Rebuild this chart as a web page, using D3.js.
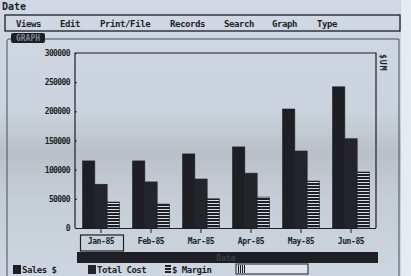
<!DOCTYPE html>
<html>
<head>
<meta charset="utf-8">
<script src="https://cdn.jsdelivr.net/npm/d3@7"></script>
<style>
  html, body { margin: 0; padding: 0; background: #d3dce5; }
  svg text { font-family: "DejaVu Sans Mono", monospace; font-weight: bold; }
</style>
</head>
<body>
<div id="chart"></div>
<script>
  "use strict";

  // data
  var months = ["Jan-85", "Feb-85", "Mar-85", "Apr-85", "May-85", "Jun-85"];
  var sales = [115000, 115000, 127000, 139000, 204000, 242000];
  var totalCost = [75000, 79000, 84000, 94000, 132000, 153000];
  var margin = [44500, 41000, 50000, 53000, 80500, 96000];
  var yTicks = [0, 50000, 100000, 150000, 200000, 250000, 300000];
  var seriesNames = ["Sales $", "Total Cost", "$ Margin"];
  var menuItems = ["Views", "Edit", "Print/File", "Records", "Search", "Graph", "Type"];

  var W = 411, H = 276;
  var ink = "#1d1f24";

  var svg = d3.select("#chart").append("svg")
      .attr("width", W)
      .attr("height", H);

  var defs = svg.append("defs");
  var grad = defs.append("linearGradient").attr("id", "bg")
      .attr("x1", 0).attr("y1", 0).attr("x2", 0).attr("y2", 1);
  grad.append("stop").attr("offset", "0%").attr("stop-color", "#d0d9e3");
  grad.append("stop").attr("offset", "40%").attr("stop-color", "#cbd4de");
  grad.append("stop").attr("offset", "55%").attr("stop-color", "#b9c0c7");
  grad.append("stop").attr("offset", "70%").attr("stop-color", "#c4ccd5");
  grad.append("stop").attr("offset", "100%").attr("stop-color", "#cdd6e0");

  // horizontal stripes for the margin bars
  var pat = defs.append("pattern").attr("id", "hatch")
      .attr("patternUnits", "userSpaceOnUse")
      .attr("width", 4).attr("height", 3);
  pat.append("rect").attr("width", 4).attr("height", 3).attr("fill", "#d8dde2");
  pat.append("rect").attr("width", 4).attr("height", 2).attr("fill", ink);

  // vertical stripes for the little scroll box
  var vpat = defs.append("pattern").attr("id", "vhatch")
      .attr("patternUnits", "userSpaceOnUse")
      .attr("width", 2).attr("height", 4);
  vpat.append("rect").attr("width", 2).attr("height", 4).attr("fill", "#d8dde2");
  vpat.append("rect").attr("width", 1).attr("height", 4).attr("fill", ink);

  svg.append("rect").attr("width", W).attr("height", H).attr("fill", "url(#bg)");
  svg.append("rect").attr("x", 401).attr("width", 10).attr("height", H).attr("fill", "#e6ebef");

  // title + menu bar
  svg.append("text").attr("x", 2).attr("y", 10)
      .attr("font-size", 10).attr("fill", ink).text("Date");
  svg.append("rect").attr("x", 5).attr("y", 15).attr("width", 395).attr("height", 16)
      .attr("fill", "none").attr("stroke", ink).attr("stroke-width", 1.3);
  var menuX = [16, 60, 100, 170, 224, 272, 317];
  svg.selectAll("text.menu")
    .data(menuItems)
    .enter()
      .append("text")
      .attr("class", "menu")
      .attr("x", function(d, i) { return menuX[i]; })
      .attr("y", 27)
      .attr("font-size", 9)
      .attr("letter-spacing", -0.4)
      .attr("fill", ink)
      .text(function(d) { return d; });

  // window frame and GRAPH tab
  svg.append("path")
      .attr("d", "M7,276 V41 Q7,39 9,39 H399 V276")
      .attr("fill", "none").attr("stroke", "#4a4f57").attr("stroke-width", 1);
  svg.append("rect").attr("x", 11).attr("y", 33).attr("width", 34).attr("height", 10)
      .attr("rx", 2).attr("fill", ink);
  svg.append("text").attr("x", 28).attr("y", 41).attr("text-anchor", "middle")
      .attr("font-size", 8).attr("fill", "#7d8590").text("GRAPH");

  // scales
  var x = d3.scaleBand().domain(months).range([76, 376])
      .paddingInner(0.26).paddingOuter(0.13);
  var xs = d3.scaleBand().domain(seriesNames).range([0, x.bandwidth()]);
  var y = d3.scaleLinear().domain([0, 300000]).range([228, 53]);

  // plot frame
  svg.append("path")
      .attr("d", "M75," + y(0) + " V" + y(300000) + " H376 V" + y(0))
      .attr("fill", "none").attr("stroke", ink).attr("stroke-width", 1.2);

  var yAxis = svg.append("g").attr("transform", "translate(75,0)")
      .call(d3.axisLeft(y).tickValues(yTicks).tickSize(-2).tickPadding(5)
      .tickFormat(d3.format("d")));
  yAxis.select(".domain").remove();
  yAxis.selectAll("line").attr("stroke", ink);
  yAxis.selectAll("text").attr("font-size", 8).attr("letter-spacing", -0.6)
      .attr("fill", ink).style("font-family", "DejaVu Sans Mono");

  var xAxis = svg.append("g").attr("transform", "translate(0," + y(0) + ")")
      .call(d3.axisBottom(x).tickSize(5).tickPadding(5));
  xAxis.select(".domain").attr("stroke", ink).attr("d", "M75,0.5H376");
  xAxis.selectAll("line").attr("stroke", ink);
  xAxis.selectAll("text").attr("font-size", 8).attr("letter-spacing", -0.4)
      .attr("fill", ink).style("font-family", "DejaVu Sans Mono");

  // selection box around the first month
  svg.append("rect")
      .attr("x", x(months[0]) - 2).attr("y", 235)
      .attr("width", x.bandwidth() + 6).attr("height", 16)
      .attr("fill", "none").attr("stroke", ink).attr("stroke-width", 1.2);

  // bars
  var series = [sales, totalCost, margin];
  var fills = [ink, "#23252b", "url(#hatch)"];
  series.forEach(function(vals, s) {
    svg.selectAll("rect.s" + s)
      .data(vals)
      .enter()
        .append("rect")
        .attr("class", "s" + s)
        .attr("x", function(d, i) { return x(months[i]) + xs(seriesNames[s]); })
        .attr("y", function(d) { return y(d); })
        .attr("width", xs.bandwidth())
        .attr("height", function(d) { return y(0) - y(d); })
        .attr("fill", fills[s])
        .attr("stroke", ink)
        .attr("stroke-width", 0.6);
  });

  // vertical SUM label
  svg.append("text").attr("x", 382).attr("y", 54)
      .attr("font-size", 8).attr("fill", ink)
      .attr("writing-mode", "tb").attr("letter-spacing", 1)
      .text("$UM");

  // dark axis-title strip
  svg.append("rect").attr("x", 77).attr("y", 252).attr("width", 301).attr("height", 11)
      .attr("fill", ink);
  svg.append("text").attr("x", 226).attr("y", 261).attr("text-anchor", "middle")
      .attr("font-size", 8).attr("fill", "#3b4048").text("Date");

  // legend
  var legX = [13, 88, 165];
  var leg = svg.selectAll("g.leg")
    .data(seriesNames)
    .enter()
      .append("g")
      .attr("class", "leg")
      .attr("transform", function(d, i) { return "translate(" + legX[i] + ",265)"; });
  leg.append("rect")
      .attr("width", function(d, i) { return i === 2 ? 6 : 8; })
      .attr("height", 9)
      .attr("fill", function(d, i) { return fills[i]; });
  leg.append("text")
      .attr("x", function(d, i) { return i === 2 ? 7 : 9; })
      .attr("y", 8)
      .attr("font-size", 9)
      .attr("letter-spacing", -0.5)
      .attr("fill", ink)
      .text(function(d) { return d; });

  svg.append("rect").attr("x", 236).attr("y", 264).attr("width", 72).attr("height", 10)
      .attr("fill", "#dfe4e9").attr("stroke", ink).attr("stroke-width", 1);
  svg.append("rect").attr("x", 237).attr("y", 265).attr("width", 9).attr("height", 8)
      .attr("fill", "url(#vhatch)");
</script>
</body>
</html>
